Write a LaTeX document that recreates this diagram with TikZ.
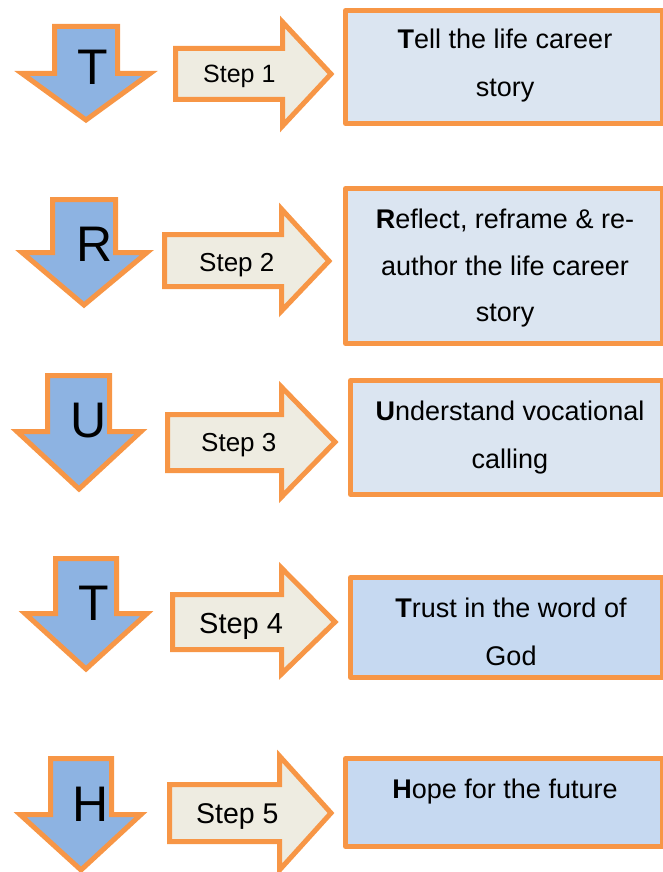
\documentclass[tikz,border=0pt]{standalone}
\usepackage{fontspec}
\setmainfont{Liberation Sans}
\definecolor{edge}{HTML}{F79646}
\definecolor{downfill}{HTML}{8DB3E2}
\definecolor{stepfill}{HTML}{EEECE1}
\definecolor{boxlight}{HTML}{DBE5F1}
\definecolor{boxmid}{HTML}{C6D9F1}
\tikzset{
  shapeline/.style={draw=edge, line width=5pt, line join=miter},
  downarrow/.style={shapeline, fill=downfill},
  rightarrow/.style={shapeline, fill=stepfill},
  stagebox/.style={shapeline, line join=round},
  letter/.style={anchor=base, inner sep=0pt, font=\fontsize{50}{50}\selectfont},
  steplabel/.style={anchor=base west, inner sep=0pt},
  boxtext/.style={anchor=base, inner sep=0pt, font=\fontsize{27}{27}\selectfont},
}
\begin{document}
\begin{tikzpicture}[x=1pt, y=-1pt]
\useasboundingbox (0,0) rectangle (662,872);

% ---- row 1 ----
\draw[downarrow] (54.5,26.5) -- (117.5,26.5) -- (117.5,73.5) -- (150,73.5) -- (86,120) -- (22,73.5) -- (54.5,73.5) -- cycle;
\node[letter] (l1) at (92.5,85) {T};
\draw[rightarrow] (175.5,48.5) -- (282.5,48.5) -- (282.5,22) -- (331,74) -- (282.5,126) -- (282.5,99.5) -- (175.5,99.5) -- cycle;
\node[steplabel, font=\fontsize{25}{25}\selectfont] (s1) at (203,83) {Step 1};
\draw[stagebox, fill=boxlight] (345.5,10.5) rectangle (662.5,123.5);
\node[boxtext] (t1a) at (505,49) {\textbf{T}ell the life career};
\node[boxtext] (t1b) at (505,97) {story};

% ---- row 2 ----
\draw[downarrow] (52.5,199.5) -- (115.5,199.5) -- (115.5,252.5) -- (147,252.5) -- (84,305) -- (22,252.5) -- (52.5,252.5) -- cycle;
\node[letter] (l2) at (94.5,261) {R};
\draw[rightarrow] (164.5,234.5) -- (281.5,234.5) -- (281.5,209) -- (329,261) -- (281.5,311) -- (281.5,286.5) -- (164.5,286.5) -- cycle;
\node[steplabel, font=\fontsize{26}{26}\selectfont] (s2) at (199,271) {Step 2};
\draw[stagebox, fill=boxlight] (345.5,188.5) rectangle (662.5,343.5);
\node[boxtext] (t2a) at (505,228) {\textbf{R}eflect, reframe \& re-};
\node[boxtext] (t2b) at (505,275) {author the life career};
\node[boxtext] (t2c) at (505,321) {story};

% ---- row 3 ----
\draw[downarrow] (47.5,375.5) -- (109.5,375.5) -- (109.5,431.5) -- (141,431.5) -- (79,489) -- (17,431.5) -- (47.5,431.5) -- cycle;
\node[letter] (l3) at (89,437) {U};
\draw[rightarrow] (167.5,414.5) -- (281.5,414.5) -- (281.5,387) -- (335,442) -- (281.5,497) -- (281.5,470.5) -- (167.5,470.5) -- cycle;
\node[steplabel, font=\fontsize{26}{26}\selectfont] (s3) at (201,451) {Step 3};
\draw[stagebox, fill=boxlight] (350.5,380.5) rectangle (662.5,494.5);
\node[boxtext] (t3a) at (510,420) {\textbf{U}nderstand vocational};
\node[boxtext] (t3b) at (510,468) {calling};

% ---- row 4 ----
\draw[downarrow] (55.5,558.5) -- (116.5,558.5) -- (116.5,613.5) -- (147,613.5) -- (86,669) -- (25,613.5) -- (55.5,613.5) -- cycle;
\node[letter] (l4) at (93.5,620) {T};
\draw[rightarrow] (172.5,594.5) -- (281.5,594.5) -- (281.5,568) -- (335,622) -- (281.5,674) -- (281.5,649.5) -- (172.5,649.5) -- cycle;
\node[steplabel, font=\fontsize{29}{29}\selectfont] (s4) at (199,633) {Step 4};
\draw[stagebox, fill=boxmid] (350.5,577.5) rectangle (662.5,677.5);
\node[boxtext] (t4a) at (511,617) {\textbf{T}rust in the word of};
\node[boxtext] (t4b) at (511,665) {God};

% ---- row 5 ----
\draw[downarrow] (50.5,758.5) -- (111.5,758.5) -- (111.5,814.5) -- (141,814.5) -- (81,870) -- (20,814.5) -- (50.5,814.5) -- cycle;
\node[letter] (l5) at (90.5,821) {H};
\draw[rightarrow] (169.5,784.5) -- (279.5,784.5) -- (279.5,756) -- (331,813) -- (279.5,870) -- (279.5,841.5) -- (169.5,841.5) -- cycle;
\node[steplabel, font=\fontsize{28.5}{28.5}\selectfont] (s5) at (196,823) {Step 5};
\draw[stagebox, fill=boxmid] (345.5,758.5) rectangle (662.5,846.5);
\node[boxtext] (t5a) at (505,798) {\textbf{H}ope for the future};
\end{tikzpicture}
\end{document}
